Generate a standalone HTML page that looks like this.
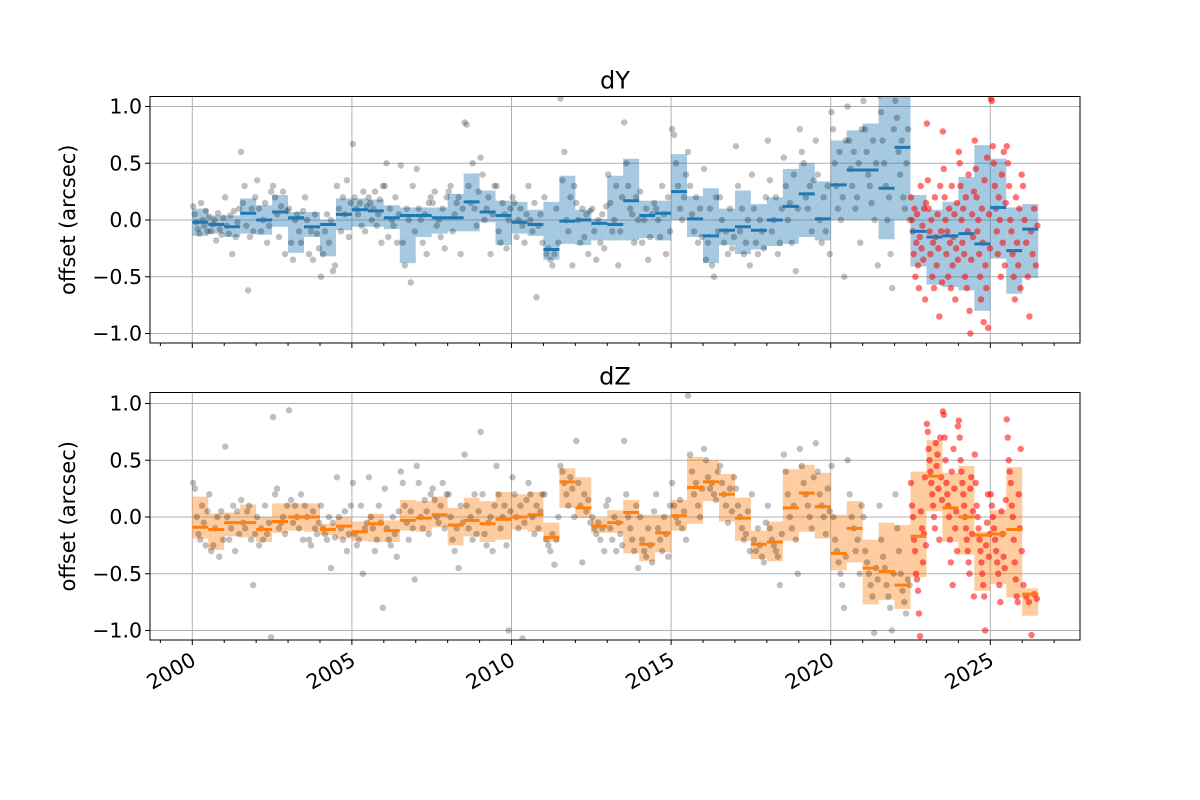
<!DOCTYPE html>
<html><head><meta charset="utf-8">
<style>
body{margin:0;background:#fff;}
svg{display:block;font-family:"DejaVu Sans","Liberation Sans",sans-serif;}
</style></head>
<body>
<svg id="chart" width="1200" height="800" viewBox="0 0 1200 800">
<defs>
<clipPath id="clipTop"><rect x="150" y="96.5" width="930" height="246.5"/></clipPath>
<clipPath id="clipBot"><rect x="150" y="392.5" width="930" height="247.5"/></clipPath>
</defs>
<g id="gTop"></g>
<g id="gBot"></g>
</svg>
<script>
const binStart = 2000;
const binWidth = 0.5;
const redFromBin = 45;
const yTicks = [-1.0, -0.5, 0.0, 0.5, 1.0];
const yTickLabels = ["\u22121.0", "\u22120.5", "0.0", "0.5", "1.0"];
const xTicks = [2000, 2005, 2010, 2015, 2020, 2025];
const xTickLabels = ["2000", "2005", "2010", "2015", "2020", "2025"];
const minorYears = [1999,2001,2002,2003,2004,2006,2007,2008,2009,2011,2012,2013,2014,2016,2017,2018,2019,2021,2022,2023,2024,2026,2027];

const dyMed = [-0.02,-0.04,-0.06,0.06,0.0,0.07,0.02,-0.06,-0.04,0.05,0.09,0.08,0.02,0.04,0.04,0.02,0.02,0.16,0.07,0.04,-0.02,-0.04,-0.26,-0.01,0.0,-0.03,-0.04,0.17,0.04,0.06,0.25,0.01,-0.14,-0.09,-0.06,-0.09,0.0,0.12,0.23,0.01,0.31,0.44,0.44,0.28,0.64,-0.10,-0.15,-0.14,-0.12,-0.21,0.11,-0.27,-0.08];
const dyLo = [-0.14,-0.12,-0.15,-0.12,-0.13,-0.06,-0.29,-0.15,-0.32,-0.09,-0.06,-0.06,-0.08,-0.38,-0.15,-0.12,-0.10,-0.10,-0.02,-0.22,-0.12,-0.14,-0.35,-0.21,-0.22,-0.18,-0.18,-0.18,-0.16,-0.18,0.0,-0.15,-0.38,-0.22,-0.30,-0.26,-0.23,-0.21,-0.15,-0.18,0.0,0.0,0.0,-0.17,0.0,-0.41,-0.57,-0.59,-0.62,-0.80,-0.34,-0.65,-0.51];
const dyHi = [0.10,0.04,0.04,0.19,0.13,0.22,0.07,0.07,0.0,0.19,0.19,0.18,0.13,0.11,0.11,0.11,0.23,0.41,0.26,0.17,0.16,0.09,0.16,0.39,0.09,0.01,0.39,0.54,0.17,0.17,0.58,0.21,0.28,0.10,0.26,0.14,0.20,0.45,0.50,0.34,0.70,0.79,0.85,1.10,1.10,0.22,0.09,0.16,0.38,0.66,0.54,0.11,0.14];

const dzMed = [-0.09,-0.11,-0.05,-0.05,-0.11,-0.04,0.0,0.0,-0.11,-0.08,-0.13,-0.06,-0.12,-0.03,-0.01,0.02,-0.07,-0.03,-0.06,-0.02,0.0,0.02,-0.18,0.31,0.08,-0.08,-0.05,0.04,-0.24,-0.14,0.01,0.26,0.31,0.20,-0.01,-0.24,-0.22,0.08,0.21,0.09,-0.32,-0.10,-0.45,-0.48,-0.60,-0.17,0.36,0.08,0.0,-0.16,-0.15,-0.11,-0.68];
const dzLo = [-0.19,-0.29,-0.17,-0.18,-0.22,-0.14,-0.12,-0.13,-0.16,-0.19,-0.21,-0.22,-0.22,-0.12,-0.13,-0.09,-0.25,-0.17,-0.22,-0.20,-0.11,-0.13,-0.22,0.08,-0.01,-0.14,-0.14,-0.32,-0.39,-0.31,-0.12,-0.06,0.14,-0.04,-0.21,-0.37,-0.39,-0.21,-0.13,-0.19,-0.47,-0.40,-0.77,-0.73,-0.81,-0.53,0.05,-0.22,-0.33,-0.65,-0.59,-0.71,-0.87];
const dzHi = [0.18,0.03,0.04,0.11,0.0,0.12,0.12,0.12,-0.06,0.0,-0.04,0.03,-0.03,0.15,0.14,0.18,0.08,0.17,0.14,0.22,0.20,0.22,-0.05,0.43,0.35,-0.01,0.06,0.15,0.02,0.02,0.15,0.53,0.50,0.38,0.17,-0.12,-0.04,0.42,0.46,0.39,0.02,0.14,-0.20,-0.05,-0.07,0.40,0.68,0.39,0.45,-0.13,0.06,0.44,-0.63];

const dyPts = [
[0.12,0.05,-0.02,-0.08,-0.12,0.15,0.0,-0.05,0.08,-0.1],
[0.03,-0.1,-0.04,0.0,-0.18,0.06,-0.08,-0.13,0.02],
[0.2,-0.05,-0.12,0.04,-0.3,0.08,-0.15,-0.02,0.1],
[0.6,0.15,0.3,-0.05,-0.62,-0.15,0.1,-0.1,0.2],
[0.35,0.1,-0.1,0.0,0.15,-0.2,-0.05,0.25],
[0.3,0.2,0.05,-0.15,0.12,0.25,-0.3,0.08],
[0.1,-0.2,-0.35,0.0,0.05,-0.1,-0.2,0.08],
[0.2,0.0,-0.3,-0.1,-0.35,0.05,-0.12,-0.25],
[-0.5,-0.3,-0.1,0.05,-0.2,0.0,-0.45,-0.4],
[0.3,0.1,-0.1,0.2,0.05,0.35,-0.15,0.15],
[0.67,0.2,0.1,0.05,0.15,-0.05,0.25,-0.1,0.12],
[0.2,0.15,0.0,0.1,0.25,-0.05,0.05,0.18,-0.2,0.3],
[0.3,0.5,-0.15,0.1,0.0,-0.05,0.2,-0.2,0.05],
[0.48,-0.2,-0.4,0.1,0.0,-0.55,0.3,-0.1],
[0.45,0.1,0.0,-0.2,0.05,-0.3,0.15,0.2],
[0.15,0.25,-0.05,0.0,-0.15,0.1,-0.25,0.2],
[0.25,0.3,-0.1,0.05,0.15,0.2,-0.3,0.1],
[0.86,0.84,0.3,0.15,0.5,0.1,-0.05,0.25],
[0.55,0.4,0.0,0.1,0.2,-0.3,0.05,0.3],
[0.3,-0.1,-0.2,0.15,0.05,-0.25,0.0,0.1],
[0.2,0.15,-0.15,0.0,0.1,-0.05,-0.2,0.05],
[0.3,0.0,-0.1,0.15,-0.68,-0.05,0.05,-0.2],
[0.2,-0.3,-0.25,-0.35,-0.4,-0.3,0.1,-0.2],
[1.07,0.35,0.6,0.0,-0.1,0.2,-0.4,0.3],
[0.15,0.0,-0.2,0.1,-0.15,0.05,-0.3,0.08],
[0.1,-0.1,-0.35,0.0,-0.2,0.05,-0.25,0.12],
[0.4,0.15,-0.1,0.0,0.3,-0.4,-0.1,0.2],
[0.86,0.5,0.3,0.1,0.05,-0.2,0.2,0.0],
[0.25,-0.2,0.0,0.1,-0.35,-0.15,0.05,0.15],
[0.1,0.0,-0.15,0.3,0.05,-0.3,0.2,-0.1],
[0.8,0.75,0.5,0.3,0.1,0.0,0.2,0.4],
[0.6,0.3,0.05,-0.1,0.2,-0.2,0.1,-0.15],
[0.45,-0.35,-0.2,0.1,-0.4,-0.5,0.2,-0.1],
[0.2,0.0,-0.2,-0.1,-0.3,0.1,-0.25,-0.15],
[0.65,0.3,-0.1,0.1,-0.3,-0.2,0.0,-0.4],
[0.4,0.1,-0.2,-0.3,0.0,-0.1,-0.25,0.2],
[0.7,0.35,-0.1,0.0,0.2,-0.3,-0.2,0.1],
[0.55,0.3,0.0,0.15,-0.2,0.4,-0.45,0.1],
[0.8,0.6,0.5,0.2,0.1,0.3,-0.1,0.35],
[0.7,0.4,0.0,-0.2,0.2,-0.1,0.3,-0.3],
[0.95,0.8,0.5,0.3,0.1,0.6,0.0,0.2,-0.5,0.7],
[1.0,0.7,0.45,0.3,0.6,0.1,0.2,0.5,-0.2,0.8],
[1.05,0.8,0.6,0.4,0.3,0.15,0.7,0.0,0.5,-0.4],
[1.1,0.95,0.7,0.5,0.3,0.0,0.2,-0.3,-0.6,0.8],
[1.05,0.9,0.6,0.4,0.7,0.2,0.1,0.5,0.8,0.0],
[0.2,0.0,-0.1,-0.3,0.1,-0.5,-0.2,0.05,-0.4,-0.6,-0.15,0.3,-0.25,-0.05,-0.35,0.1,-0.7,0.15],
[0.85,0.35,0.1,-0.1,-0.3,0.0,-0.5,-0.2,-0.6,0.2,-0.15,-0.4,0.05,-0.25,-0.85,0.3,-0.1,-0.55],
[0.78,0.45,0.2,0.0,-0.3,-0.1,-0.5,0.1,-0.2,-0.6,0.3,-0.4,-0.15,0.05,-0.7,-0.25,0.15,-0.35],
[0.6,0.5,0.3,0.0,-0.2,0.1,-0.3,-0.5,0.2,-0.6,-0.1,0.4,-0.8,-1.0,-0.35,0.05,-0.15,0.25],
[0.7,0.45,0.2,-0.1,0.0,-0.3,-0.5,-0.7,0.1,-0.2,-0.9,0.35,-0.4,-0.6,0.55,-0.95,0.05,-0.25],
[1.07,1.05,0.65,0.5,0.3,0.1,-0.1,-0.3,0.2,0.0,-0.5,0.4,-0.2,0.6,-0.4,0.15],
[0.65,0.5,0.3,0.0,-0.1,-0.3,-0.5,-0.7,0.2,-0.2,-0.4,0.1,-0.6,0.4],
[0.3,0.0,-0.2,-0.5,-0.85,-0.1,-0.3,0.1,-0.4,-0.05]
];

const dzPts = [
[0.3,0.25,0.0,-0.15,-0.2,0.1,-0.05,-0.25,0.05],
[0.2,-0.3,-0.25,-0.1,0.0,-0.35,0.05,-0.2],
[0.62,0.0,-0.2,-0.1,0.1,-0.3,0.05,-0.15],
[0.15,-0.05,-0.1,0.05,0.1,-0.2,-0.6,-0.15],
[0.0,-0.25,-0.1,-0.2,0.1,-0.15,-0.05,-1.06],
[0.88,0.2,0.25,-0.1,-0.05,0.0,-0.15,0.1],
[0.94,0.15,-0.05,0.1,0.0,-0.1,0.2,-0.2],
[0.1,0.0,-0.2,-0.25,0.05,-0.1,-0.15,-0.05],
[0.1,-0.1,-0.15,-0.2,0.0,-0.45,-0.05,-0.18],
[0.35,0.0,-0.1,-0.2,0.05,-0.3,-0.15,0.1],
[0.3,-0.15,-0.25,-0.2,0.1,-0.5,-0.1,-0.05],
[0.35,0.0,-0.1,-0.3,-0.2,0.1,-0.05,-0.8],
[0.25,-0.1,-0.2,-0.25,0.0,-0.15,-0.35,0.05],
[0.4,0.3,0.1,-0.05,-0.2,0.05,-0.1,-0.55],
[0.45,0.3,0.0,-0.1,0.15,0.05,-0.15,0.2],
[0.25,0.15,0.0,-0.05,0.1,0.3,-0.1,0.2],
[0.2,0.0,-0.2,-0.3,-0.1,-0.45,0.1,-0.05],
[0.55,0.1,-0.1,0.0,-0.2,0.2,-0.15,0.05],
[0.75,0.2,-0.15,-0.25,-0.05,0.0,-0.3,0.1],
[0.45,0.2,-0.1,0.0,0.1,-0.25,-1.0,0.05],
[0.35,0.2,0.0,-0.1,0.1,-1.07,-0.05,0.15],
[0.3,0.2,0.0,-0.15,0.1,-0.1,0.05,0.2],
[0.2,-0.2,-0.25,-0.3,-0.15,-0.42,-0.2,0.0],
[0.45,0.4,0.3,0.2,0.1,0.35,0.25,0.0],
[0.67,0.3,0.1,-0.4,0.2,0.05,0.15,-0.05],
[0.0,-0.1,-0.15,-0.05,-0.2,-0.1,-0.3,0.1],
[0.15,-0.1,-0.2,0.0,-0.3,-0.05,-0.15,-0.25],
[0.67,0.2,0.0,-0.1,-0.2,-0.3,0.1,-0.45],
[0.0,-0.2,-0.3,-0.35,-0.1,-0.25,-0.4,0.05],
[0.2,-0.1,-0.2,-0.3,0.0,-0.15,-0.35,0.1],
[0.3,0.1,0.0,-0.05,0.15,-0.1,0.05,-0.2],
[1.07,0.55,0.4,0.2,0.3,0.1,0.0,0.25],
[0.6,0.5,0.35,0.25,0.3,0.2,0.15,0.4],
[0.45,0.3,0.2,0.1,-0.05,0.25,0.05,0.35],
[0.25,0.1,0.0,-0.1,-0.2,-0.15,0.05,-0.3],
[0.2,-0.2,-0.3,-0.1,-0.25,-0.35,-0.4,-0.05],
[0.1,-0.1,-0.2,-0.25,-0.3,-0.35,-0.6,-0.15],
[0.55,0.4,0.2,0.0,-0.1,0.1,-0.2,-0.5],
[0.6,0.45,0.3,0.2,0.1,0.0,-0.1,0.35],
[0.65,0.4,0.2,0.1,0.0,-0.15,0.25,0.05],
[0.45,0.0,-0.2,-0.3,-0.4,-0.5,-0.6,-0.8,-0.35],
[0.5,0.2,0.0,-0.1,-0.3,-0.2,-0.5,0.1],
[0.0,-0.3,-0.4,-0.5,-0.6,-0.7,-1.02,-0.45,-0.55],
[0.1,-0.2,-0.35,-0.45,-0.6,-0.7,-0.8,-1.0,-0.5],
[0.2,-0.1,-0.3,-0.5,-0.65,-0.75,-0.85,-0.55,-0.6],
[0.3,0.1,0.0,-0.2,-0.3,-0.5,-0.55,-0.65,-0.85,-1.05,0.05,-0.1,-0.4,-0.15,0.35,-0.25],
[0.82,0.75,0.6,0.5,0.4,0.3,0.2,0.1,0.0,-0.1,0.65,0.45,0.55,0.25,-0.2,0.7,0.35,0.15],
[0.93,0.9,0.7,0.5,0.3,0.2,0.1,0.0,-0.2,-0.4,0.4,-0.6,0.6,0.25,-0.1,0.05,-0.3,0.8],
[0.85,0.7,0.5,0.4,0.3,0.2,0.1,0.0,-0.1,-0.2,-0.3,-0.4,-0.5,0.25,0.35,-0.15,0.05,-0.7],
[0.55,0.3,0.1,0.0,-0.1,-0.2,-0.3,-0.4,-0.5,-0.6,-0.7,-1.0,-0.25,-0.05,0.2,-0.35,-0.15],
[0.2,0.1,0.0,-0.1,-0.2,-0.3,-0.4,-0.5,-0.6,-0.75,0.05,-0.15,-0.35,-0.45,0.15],
[0.86,0.7,0.5,0.4,0.3,0.1,0.0,-0.2,-0.4,-0.55,-0.7,-0.75,0.2,-0.1,0.6,-0.3],
[-0.6,-0.7,-0.75,-1.04,-0.68,-0.72]
];

const NS = "http://www.w3.org/2000/svg";
const X0 = 192.3, PXY = 31.92;
function xs(yr){ return X0 + (yr - 2000) * PXY; }
function mk(tag, attrs, parent){
  const el = document.createElementNS(NS, tag);
  for (const k in attrs) el.setAttribute(k, attrs[k]);
  parent.appendChild(el);
  return el;
}

function panel(g, top, bottom, zeroY, title, med, lo, hi, pts, boxColor, medColor, clipId, showXLabels, pre){
  const ys = v => zeroY - 113.5 * v;
  const L = 150, R = 1080;
  yTicks.forEach(v => {
    const gl = mk("line", {x1:L, x2:R, y1:ys(v), y2:ys(v), stroke:"#b0b0b0", "stroke-width":1}, g);
    
    
  });
  xTicks.forEach(t => {
    const gl = mk("line", {x1:xs(t), x2:xs(t), y1:top, y2:bottom, stroke:"#b0b0b0", "stroke-width":1}, g);
    
    
  });
  const cg = mk("g", {"clip-path":"url(#" + clipId + ")"}, g);
  
  
  med.forEach((m, i) => {
    const x = xs(binStart + i * binWidth), w = binWidth * PXY;
    const r = mk("rect", {x:x, y:ys(hi[i]), width:w, height:ys(lo[i]) - ys(hi[i]), fill:boxColor, "fill-opacity":0.4}, cg);
    
    
  });
  pts.forEach((arr, i) => {
    const x0 = xs(binStart + i * binWidth), w = binWidth * PXY;
    const red = i >= redFromBin;
    arr.forEach((v, j) => {
      const cx = x0 + (j + 0.5) * w / arr.length;
      const c = mk("circle", {cx:cx, cy:ys(v), r:3.2, fill: red ? "#ff0000" : "#000000", "fill-opacity": red ? 0.55 : 0.25}, cg);
      
      
    });
  });
  med.forEach((m, i) => {
    const x = xs(binStart + i * binWidth), w = binWidth * PXY;
    const l = mk("line", {x1:x, x2:x + w, y1:ys(m), y2:ys(m), stroke:medColor, "stroke-width":3}, cg);
    
    
  });
  const fr = mk("rect", {x:L, y:top, width:R - L, height:bottom - top, fill:"none", stroke:"#000", "stroke-width":1}, g);
  
  
  yTicks.forEach((v, k) => {
    mk("line", {x1:L - 5, x2:L, y1:ys(v), y2:ys(v), stroke:"#000"}, g);
    const t = mk("text", {x:L - 8, y:ys(v) + 7, "text-anchor":"end", "font-size":20.5, fill:"#000"}, g);
    t.textContent = yTickLabels[k];
    
    
  });
  xTicks.forEach((yr, k) => {
    mk("line", {x1:xs(yr), x2:xs(yr), y1:bottom, y2:bottom + 5, stroke:"#000"}, g);
    if (showXLabels) {
      const t = mk("text", {x:0, y:0, "text-anchor":"end", "font-size":20.5, fill:"#000",
        transform:"translate(" + (xs(yr) + 5) + "," + (bottom + 24) + ") rotate(-30)"}, g);
      t.textContent = xTickLabels[k];
      
      
    }
  });
  minorYears.forEach(yr => {
    mk("line", {x1:xs(yr), x2:xs(yr), y1:bottom, y2:bottom + 3, stroke:"#000"}, g);
  });
  const tt = mk("text", {x:615, y:top - 8, "text-anchor":"middle", "font-size":24, fill:"#000"}, g);
  tt.textContent = title;
  
  
  const yl = mk("text", {x:0, y:0, "text-anchor":"middle", "font-size":21, fill:"#000",
    transform:"translate(75," + ((top + bottom) / 2) + ") rotate(-90)"}, g);
  yl.textContent = "offset (arcsec)";
  
  
}

panel(document.getElementById("gTop"), 96.5, 343, 220, "dY", dyMed, dyLo, dyHi, dyPts, "#1f77b4", "#1f77b4", "clipTop", false, "dy");
panel(document.getElementById("gBot"), 392.5, 640, 517, "dZ", dzMed, dzLo, dzHi, dzPts, "#ff7f0e", "#ff7f0e", "clipBot", true, "dz");
</script>
</body></html>
